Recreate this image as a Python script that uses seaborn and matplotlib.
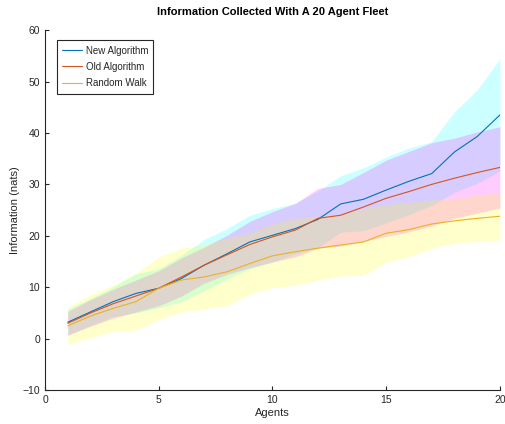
import numpy as np
import pandas as pd
import matplotlib
matplotlib.use("Agg")
import matplotlib.pyplot as plt
import seaborn as sns

agents = list(range(1, 21))
new_mean = [3.2, 5.2, 7.2, 8.8, 9.8, 11.7, 14.3, 16.5, 18.8, 20.1,
            21.4, 23.2, 26.2, 27.1, 28.9, 30.6, 32.1, 36.3, 39.3, 43.5]
new_std = [2.5, 2.6, 2.9, 3.8, 3.8, 4.5, 5.0, 4.9, 5.2, 5.2,
           4.9, 5.5, 5.5, 6.1, 6.4, 6.5, 6.2, 7.8, 9.1, 10.9]
old_mean = [3.0, 5.0, 6.8, 8.3, 9.8, 12.0, 14.3, 16.3, 18.3, 19.8,
            21.1, 23.4, 24.0, 25.6, 27.3, 28.6, 30.0, 31.2, 32.3, 33.3]
old_std = [2.3, 2.6, 2.8, 3.1, 3.4, 3.7, 3.5, 3.8, 4.5, 4.9,
           5.2, 5.8, 6.0, 6.7, 7.4, 7.8, 8.1, 7.8, 7.9, 7.9]
rw_mean = [2.5, 4.4, 5.9, 7.2, 9.8, 11.4, 12.0, 13.0, 14.6, 16.1,
           16.9, 17.6, 18.2, 18.8, 20.5, 21.2, 22.3, 22.9, 23.4, 23.8]
rw_std = [3.6, 4.2, 4.5, 5.5, 6.1, 6.2, 6.2, 6.6, 5.9, 6.2,
          6.5, 6.2, 6.0, 6.5, 5.6, 5.3, 4.7, 4.4, 4.5, 4.6]

names = ["New Algorithm", "Old Algorithm", "Random Walk"]
means = [new_mean, old_mean, rw_mean]
stds = [new_std, old_std, rw_std]
line_colors = ["#0072BD", "#D95319", "#EDB120"]
band_colors = ["#00FFFF", "#FF00FF", "#FFFF00"]

sns.set_style("white")
plt.rcParams['font.family'] = ['Liberation Sans', 'DejaVu Sans']

fig = plt.figure(figsize=(5.06, 4.24), dpi=100)
ax = fig.add_axes([0.089, 0.080, 0.899, 0.849])

x = np.array(agents)
for m, s, c in zip(means, stds, band_colors):
    m = np.array(m); s = np.array(s)
    ax.fill_between(x, m - s, m + s, color=c, alpha=0.2, linewidth=0, zorder=1)

df = pd.concat([pd.DataFrame({"Agents": agents, "Information": m, "Algorithm": n})
                for n, m in zip(names, means)], ignore_index=True)
sns.lineplot(data=df, x="Agents", y="Information", hue="Algorithm",
             palette=line_colors, linewidth=0.8, ax=ax, zorder=3)

ax.set_xlim(0, 20)
ax.set_ylim(-10, 60)
ax.set_xticks([0, 5, 10, 15, 20])
ax.set_yticks(range(-10, 61, 10))
axc = "#262626"
for sp in ["top", "right"]:
    ax.spines[sp].set_visible(False)
for sp in ["left", "bottom"]:
    ax.spines[sp].set_color(axc)
    ax.spines[sp].set_linewidth(0.8)
ax.tick_params(direction="in", length=3, width=0.8, colors=axc, labelsize=7.5,
               left=True, bottom=True)
ax.set_xlabel("Agents", fontsize=8, color=axc, labelpad=2)
ax.set_ylabel("Information (nats)", fontsize=8, color=axc, labelpad=2)
ax.set_title("Information Collected With A 20 Agent Fleet", fontsize=8,
             fontweight="bold", color="black", pad=11)

leg = ax.legend(loc="upper left", bbox_to_anchor=(0.026, 0.972), fontsize=7,
                frameon=True, fancybox=False, framealpha=1, edgecolor=axc,
                handlelength=2.0, handletextpad=0.4, borderpad=0.55,
                labelspacing=0.65, borderaxespad=0)
leg.get_frame().set_linewidth(0.8)
for t in leg.get_texts():
    t.set_color(axc)

fig.savefig("out.png", dpi=100)
